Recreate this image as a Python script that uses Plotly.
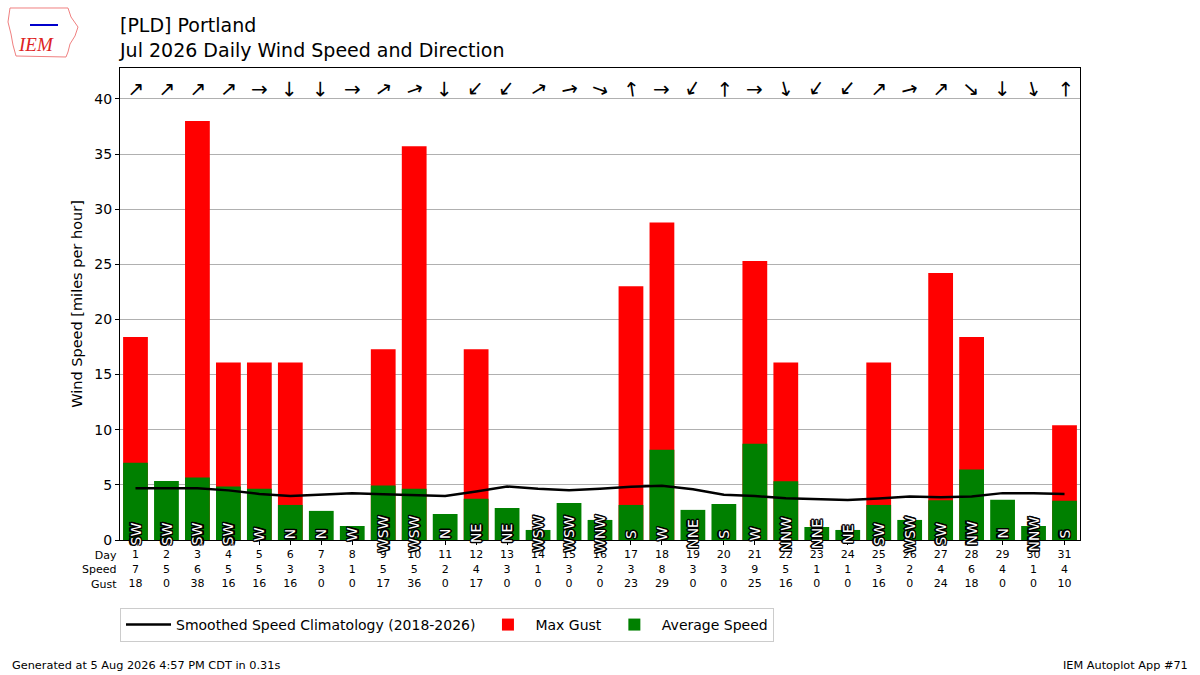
import plotly.graph_objects as go

days = list(range(1, 32))
avg_speed = [7.0, 5.36, 5.66, 4.85, 4.64, 3.18, 2.64, 1.27, 4.94, 4.64, 2.36, 3.73, 2.9, 0.91, 3.36,
             1.82, 3.18, 8.18, 2.73, 3.27, 8.73, 5.33, 1.18, 0.91, 3.18, 1.82, 3.6, 6.39, 3.64, 1.27, 3.55]
max_gust = [18.4, 0, 38.0, 16.1, 16.1, 16.1, 0, 0, 17.3, 35.7, 0, 17.3, 0, 0, 0,
            0, 23.0, 28.8, 0, 0, 25.3, 16.1, 0, 0, 16.1, 0, 24.2, 18.4, 0, 0, 10.4]
climo = [4.7, 4.72, 4.7, 4.5, 4.18, 4.0, 4.1, 4.25, 4.15, 4.05, 4.0, 4.4, 4.85, 4.65, 4.52,
         4.64, 4.82, 4.92, 4.6, 4.1, 3.98, 3.79, 3.68, 3.62, 3.76, 3.94, 3.88, 3.94, 4.25, 4.25, 4.18]
dir_text = ["SW", "SW", "SW", "SW", "W", "N", "N", "W", "WSW", "WSW", "N", "NE", "NE", "WSW", "WSW",
            "WNW", "S", "W", "NNE", "S", "W", "NNW", "NNE", "NE", "SW", "WSW", "SW", "NW", "N", "NNW", "S"]
dir_deg = [225, 225, 225, 228, 270, 0, 0, 270, 235, 250, 0, 42, 38, 238, 258,
           290, 172, 270, 32, 180, 270, 345, 35, 40, 225, 255, 225, 312, 0, 345, 180]
speed_lbl = [7, 5, 6, 5, 5, 3, 3, 1, 5, 5, 2, 4, 3, 1, 3, 2, 3, 8, 3, 3, 9, 5, 1, 1, 3, 2, 4, 6, 4, 1, 4]
gust_lbl = [18, 0, 38, 16, 16, 16, 0, 0, 17, 36, 0, 17, 0, 0, 0, 0, 23, 29, 0, 0, 25, 16, 0, 0, 16, 0, 24, 18, 0, 0, 10]

FONT = "DejaVu Sans"

fig = go.Figure()
fig.add_trace(go.Bar(x=days, y=max_gust, marker=dict(color="#ff0000", line=dict(width=0)),
                     width=0.8, name="Max Gust", legendrank=2))
fig.add_trace(go.Bar(x=days, y=avg_speed, marker=dict(color="#008000", line=dict(width=0)),
                     width=0.8, name="Average Speed", legendrank=3))
fig.add_trace(go.Scatter(x=days, y=climo, mode="lines", line=dict(color="black", width=2.5),
                         name="Smoothed Speed Climatology (2018-2026)", legendrank=1))

ticktext = [f"{d}<br>{s}<br>{g}" for d, s, g in zip(days, speed_lbl, gust_lbl)]

annotations = []
outline = ("-1.2px -1.2px 0 #000, 1.2px -1.2px 0 #000, -1.2px 1.2px 0 #000, 1.2px 1.2px 0 #000, "
           "0 1.5px 0 #000, 0 -1.5px 0 #000, 1.5px 0 0 #000, -1.5px 0 0 #000")
for d, t in zip(days, dir_text):
    annotations.append(dict(x=d, y=0.55, xref="x", yref="y", text=t, showarrow=False, textangle=-90,
                            font=dict(family=FONT, size=14, color="white", shadow=outline),
                            xanchor="center", yanchor="middle"))
for d, deg in zip(days, dir_deg):
    ang = (deg + 90) % 360
    if ang > 180:
        ang -= 360
    annotations.append(dict(x=d, y=40.9, xref="x", yref="y", text="→", showarrow=False, textangle=ang,
                            font=dict(family=FONT, size=20, color="black"),
                            xanchor="center", yanchor="middle"))

annotations += [
    dict(x=-0.003, y=1.118, xref="paper", yref="paper", text="[PLD] Portland<br>Jul 2026 Daily Wind Speed and Direction",
         showarrow=False, xanchor="left", yanchor="top", align="left",
         font=dict(family=FONT, size=19, color="black")),
    dict(x=-0.0015, y=-0.015, xref="paper", yref="paper", text="Day<br>Speed<br>Gust", showarrow=False,
         xanchor="right", yanchor="top", align="right", font=dict(family=FONT, size=11, color="black")),
    dict(x=-0.1145, y=-0.265, xref="paper", yref="paper", text="Generated at 5 Aug 2026 4:57 PM CDT in 0.31s",
         showarrow=False, xanchor="left", yanchor="middle", font=dict(family=FONT, size=11.3, color="black")),
    dict(x=1.1145, y=-0.265, xref="paper", yref="paper", text="IEM Autoplot App #71",
         showarrow=False, xanchor="right", yanchor="middle", font=dict(family=FONT, size=11.3, color="black")),
    dict(x=-0.0875, y=1.049, xref="paper", yref="paper", text="<i>IEM</i>", showarrow=False,
         xanchor="center", yanchor="middle", font=dict(family="Liberation Serif", size=19, color="#dd2222")),
]

# decorative logo outline (page pixels -> paper coords)
def _pp(x, y):
    return (x - 120) / 960, (540 - y) / 472

logo_pts = [(10, 8), (68, 8), (71, 17), (78, 27), (75, 36), (70, 44), (68, 52), (66, 57),
            (16, 56), (13, 45), (11, 34), (8, 22), (10, 8)]
path = "M " + " L ".join(f"{_pp(x, y)[0]:.5f},{_pp(x, y)[1]:.5f}" for x, y in logo_pts) + " Z"
icon = [(30, 25), (58, 25)]
icon_path = "M " + " L ".join(f"{_pp(x, y)[0]:.5f},{_pp(x, y)[1]:.5f}" for x, y in icon)
shapes = [
    dict(type="path", xref="paper", yref="paper", path=path, line=dict(color="#f08080", width=1)),
    dict(type="path", xref="paper", yref="paper", path=icon_path, line=dict(color="#0000cc", width=2)),
]

fig.update_layout(
    width=1200, height=675,
    margin=dict(l=120, r=120, t=68, b=135, autoexpand=False),
    paper_bgcolor="white", plot_bgcolor="white",
    barmode="overlay", bargap=0.2,
    font=dict(family=FONT, size=14, color="black"),
    annotations=annotations,
    shapes=shapes,
    showlegend=True,
    legend=dict(orientation="h", x=0, y=-0.144, xanchor="left", yanchor="top",
                bordercolor="#cccccc", borderwidth=1, font=dict(family=FONT, size=14),
                itemwidth=45),
    xaxis=dict(range=[0.5, 31.5], tickmode="array", tickvals=days, ticktext=ticktext,
               tickfont=dict(family=FONT, size=11), ticks="outside", ticklen=4, tickcolor="black",
               showline=True, linecolor="black", linewidth=1, mirror=True, showgrid=False, zeroline=False),
    yaxis=dict(range=[0, 42.8], tickmode="array", tickvals=[0, 5, 10, 15, 20, 25, 30, 35, 40],
               ticks="outside", ticklen=4, tickcolor="black", tickfont=dict(family=FONT, size=14),
               showline=True, linecolor="black", linewidth=1, mirror=True,
               showgrid=True, gridcolor="#b0b0b0", gridwidth=1, zeroline=False,
               title=dict(text="Wind Speed [miles per hour]", font=dict(family=FONT, size=14.5), standoff=8)),
)
fig.write_html("out.html", config={"displayModeBar": False},
               post_script="document.body.style.margin='0';document.body.style.padding='0';")
